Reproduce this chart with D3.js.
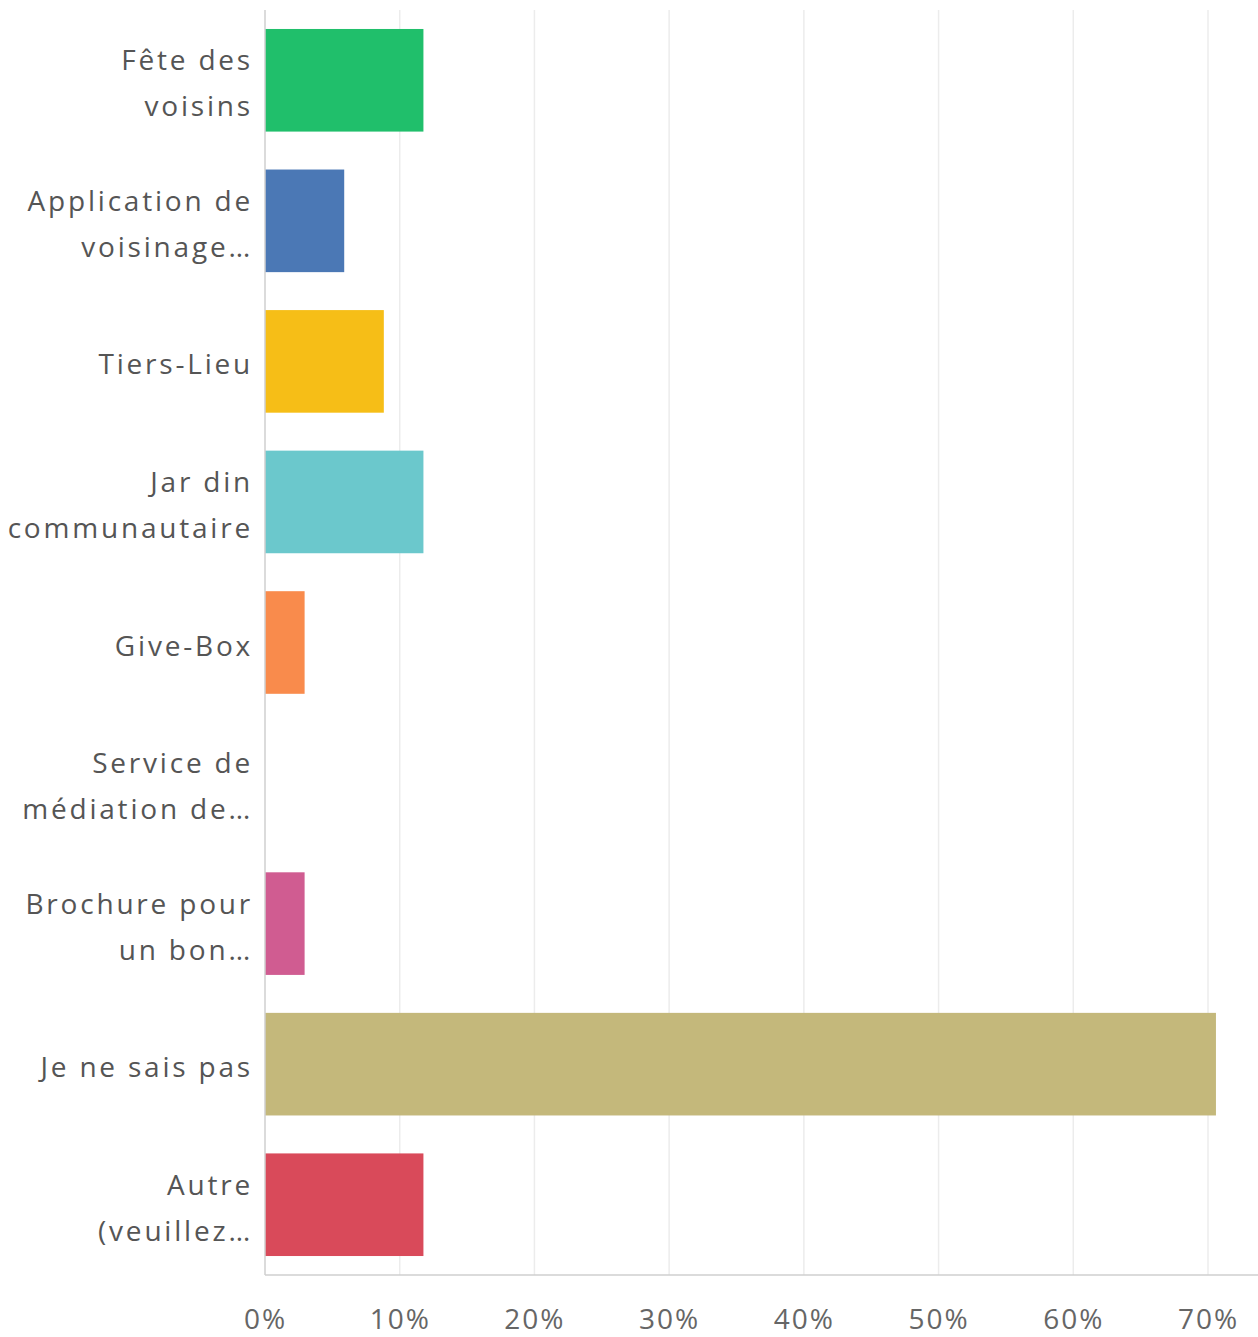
<!DOCTYPE html>
<html>
<head>
<meta charset="utf-8">
<script src="https://cdn.jsdelivr.net/npm/d3@7"></script>
<style>
  html, body { margin: 0; padding: 0; background: #fff; }
  svg { display: block; }
</style>
</head>
<body>
<svg id="chart" width="1258" height="1337"></svg>
<script>
// ---- data ----
const categories = [
  "Fête des voisins",
  "Application de voisinage…",
  "Tiers-Lieu",
  "Jardin communautaire",
  "Give-Box",
  "Service de médiation de…",
  "Brochure pour un bon…",
  "Je ne sais pas",
  "Autre (veuillez…"
];
const labelLines = [
  ["Fête des", "voisins"],
  ["Application de", "voisinage…"],
  ["Tiers-Lieu"],
  ["Jar din", "communautaire"],
  ["Give-Box"],
  ["Service de", "médiation de…"],
  ["Brochure pour", "un bon…"],
  ["Je ne sais pas"],
  ["Autre", "(veuillez…"]
];
const values = [11.76, 5.88, 8.82, 11.76, 2.94, 0, 2.94, 70.59, 11.76];
const colors = ["#20bf6b", "#4b78b5", "#f6be17", "#6bc8cc", "#f98b4c", "#7e6bc0", "#d05c91", "#c4b87b", "#d94a5a"];
const tickValues = [0, 10, 20, 30, 40, 50, 60, 70];

// ---- layout ----
(function () {
const svg = d3.select("#chart");
const mLeft = 265, mRight = 1208, mTop = 10, mBottom = 1275;

const x = d3.scaleLinear().domain([0, 70]).range([mLeft, mRight]);
const y = d3.scaleBand().domain(categories).range([mTop, mBottom]).paddingInner(0.27).paddingOuter(0.135);

// gridlines
svg.append("g")
  .selectAll("line")
  .data(tickValues.filter(d => d > 0))
  .join("line")
  .attr("x1", d => x(d)).attr("x2", d => x(d))
  .attr("y1", mTop).attr("y2", mBottom)
  .attr("stroke", "#ececec").attr("stroke-width", 1.5);

// bars
svg.append("g")
  .selectAll("rect")
  .data(categories)
  .join("rect")
  .attr("x", x(0))
  .attr("y", d => y(d))
  .attr("width", (d, i) => x(values[i]) - x(0))
  .attr("height", y.bandwidth())
  .attr("fill", (d, i) => colors[i]);

// axes lines
svg.append("line")
  .attr("x1", mLeft).attr("x2", mLeft).attr("y1", mTop).attr("y2", mBottom)
  .attr("stroke", "#cfcfcf").attr("stroke-width", 1.5);
svg.append("line")
  .attr("x1", mLeft).attr("x2", 1258).attr("y1", mBottom).attr("y2", mBottom)
  .attr("stroke", "#cfcfcf").attr("stroke-width", 1.5);

// x axis tick labels
const xAxis = d3.axisBottom(x).tickValues(tickValues).tickFormat(d => d + "%").tickSize(0).tickPadding(0);
const gx = svg.append("g").attr("transform", `translate(0,${mBottom})`).call(xAxis);
gx.select(".domain").remove();
gx.selectAll("text")
  .attr("y", 54)
  .attr("dy", 0)
  .attr("font-family", "'Open Sans', sans-serif")
  .attr("font-size", 28)
  .attr("letter-spacing", 2)
  .attr("fill", "#666");

// y labels
const gy = svg.append("g");
categories.forEach((c, i) => {
  const lines = labelLines[i];
  const cy = y(c) + y.bandwidth() / 2;
  const lh = 46;
  const t = gy.append("text")
    .attr("text-anchor", "end")
    .attr("font-family", "'Open Sans', sans-serif")
    .attr("font-size", 28)
    .attr("letter-spacing", 2.8)
    .attr("fill", "#555");
  lines.forEach((ln, j) => {
    t.append("tspan")
      .attr("x", 253)
      .attr("y", cy + (j - (lines.length - 1) / 2) * lh + 13)
      .text(ln);
  });
});
})();
</script>
</body>
</html>
